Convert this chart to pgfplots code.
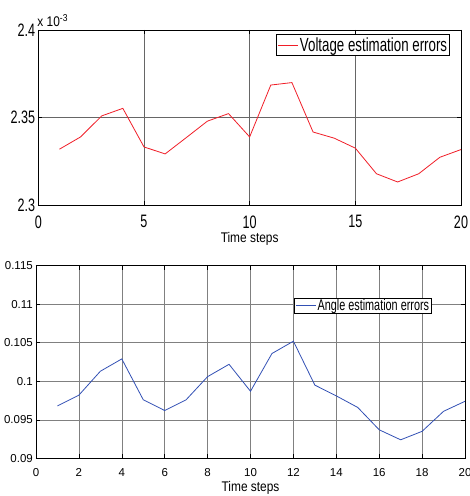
\documentclass[border=0pt]{standalone}
\usepackage{fontspec}
\setmainfont{Liberation Sans}
\newfontfamily\narrowfont{Liberation Sans}[FakeStretch=0.7]
\newfontfamily\midfont{Liberation Sans}[FakeStretch=0.85]
\usepackage{pgfplots}
\pgfplotsset{compat=1.18}

\definecolor{vred}{RGB}{240,30,40}
\definecolor{ablue}{RGB}{50,80,180}

\pgfplotsset{
  matgrid/.style={
    scale only axis,
    clip mode=individual,
    grid=major,
    major grid style={black!60, line width=0.5bp},
    axis line style={line width=0.8bp},
    tick align=inside,
    major tick length=4bp,
    tick style={black, line width=0.5bp},
    /pgf/number format/assume math mode=true,
    xticklabel style={inner sep=0pt, yshift=-10bp},
    yticklabel style={inner sep=0pt, xshift=-3bp},
    legend cell align=left,
    legend image code/.code={\draw[#1] (0bp,0bp) -- (20bp,0bp);},
  }
}

\begin{document}
\begin{tikzpicture}
\useasboundingbox (0,0) rectangle (470bp,496bp);

% voltage errors
\begin{axis}[
  matgrid,
  at={(38.3bp,290.7bp)}, anchor=south west,
  width=422.7bp, height=175.3bp,
  xmin=0, xmax=20, ymin=2.3e-3, ymax=2.4e-3,
  xtick={0,5,10,15,20},
  ytick={2.3e-3,2.35e-3,2.4e-3},
  scaled y ticks=base 10:3,
  ytick scale label code/.code={},
  yticklabel style={/pgf/number format/.cd, fixed, precision=2},
  tick label style={font=\fontsize{18bp}{18bp}\narrowfont},
  xlabel={Time steps},
  xlabel style={font=\fontsize{14bp}{14bp}\midfont, at={(axis description cs:0.5,0)}, anchor=north, inner sep=0pt, yshift=-27bp},
  legend style={at={(0.974,0.975)}, anchor=north east, draw=black, line width=0.8bp,
    font=\fontsize{19bp}{21bp}\narrowfont, inner xsep=1bp, inner ysep=1bp,
    nodes={inner sep=1.5bp}},
]
\addplot[vred, line width=0.8bp] coordinates {
  (1,2.332e-3) (2,2.339e-3) (3,2.351e-3) (4,2.3553e-3) (5,2.3333e-3)
  (6,2.3293e-3) (7,2.3386e-3) (8,2.348e-3) (9,2.3523e-3) (10,2.339e-3)
  (11,2.3686e-3) (12,2.370e-3) (13,2.3418e-3) (14,2.3383e-3) (15,2.3326e-3)
  (16,2.318e-3) (17,2.3133e-3) (18,2.318e-3) (19,2.3274e-3) (20,2.3318e-3)
};
\addlegendentry{Voltage estimation errors}
\node[anchor=south west, inner sep=0pt, font=\fontsize{14bp}{14bp}\midfont]
  at (rel axis cs:0,1) [xshift=-1bp, yshift=3bp] {x 10\raisebox{5.5bp}{\fontsize{10bp}{10bp}\selectfont -3}};
\end{axis}

% angle errors
\begin{axis}[
  matgrid,
  at={(36bp,37.7bp)}, anchor=south west,
  width=429bp, height=192.6bp,
  xmin=0, xmax=20, ymin=0.09, ymax=0.115,
  xtick={0,2,4,6,8,10,12,14,16,18,20},
  ytick={0.09,0.095,0.1,0.105,0.11,0.115},
  scaled y ticks=false,
  major grid style={black!50, line width=0.5bp},
  yticklabel style={/pgf/number format/.cd, fixed, precision=3},
  tick label style={font=\fontsize{11.5bp}{12bp}\selectfont},
  xlabel={Time steps},
  xlabel style={font=\fontsize{14bp}{14bp}\midfont, at={(axis description cs:0.5,0)}, anchor=north, inner sep=0pt, yshift=-23bp},
  legend style={at={(0.922,0.832)}, anchor=north east, draw=black, line width=0.8bp,
    font=\fontsize{15.5bp}{16bp}\narrowfont, inner xsep=1bp, inner ysep=0bp,
    nodes={inner sep=1bp}},
]
\addplot[ablue, line width=0.8bp] coordinates {
  (1,0.0968) (2,0.0982) (3,0.1013) (4,0.1029) (5,0.0976)
  (6,0.0962) (7,0.0976) (8,0.1006) (9,0.1022) (10,0.0987)
  (11,0.1036) (12,0.1052) (13,0.0995) (14,0.0981) (15,0.0966)
  (16,0.0937) (17,0.0924) (18,0.0935) (19,0.0961) (20,0.0974)
};
\addlegendentry{Angle estimation errors}
\end{axis}
\end{tikzpicture}
\end{document}
